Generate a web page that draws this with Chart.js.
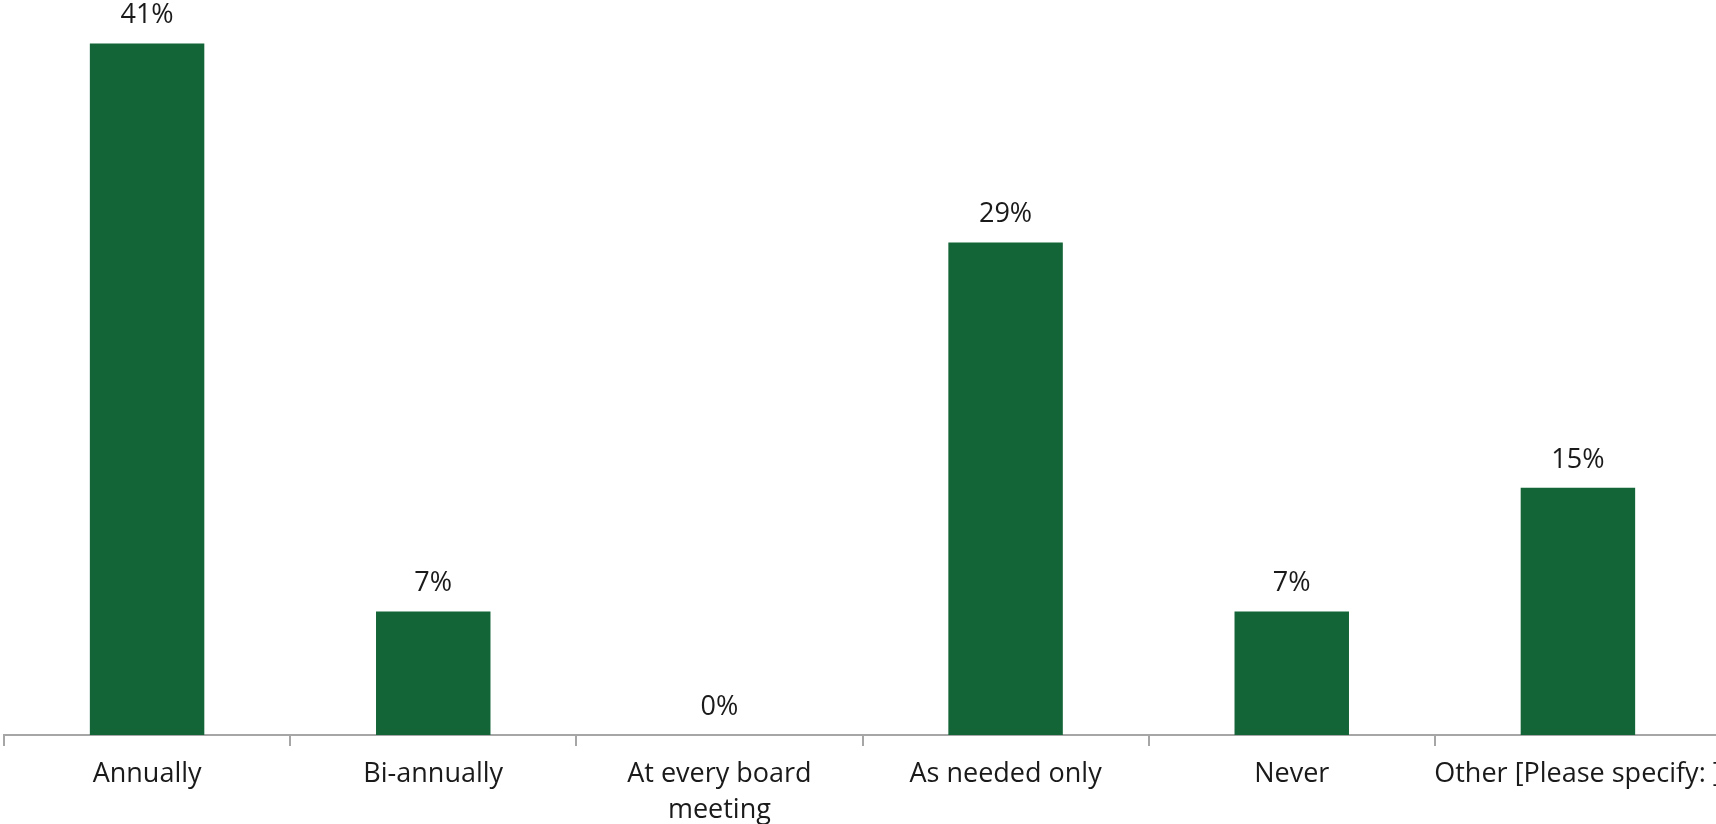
<!DOCTYPE html>
<html>
<head>
<meta charset="utf-8">
<script src="https://cdn.jsdelivr.net/npm/chart.js@4/dist/chart.umd.min.js"></script>
<style>
  html, body { margin: 0; padding: 0; background: #fff; overflow: hidden; }
  canvas { display: block; }
</style>
</head>
<body>
<canvas id="freq-chart" width="1721" height="824"></canvas>
<script>
const categories = ['Annually', 'Bi-annually', ['At every board', 'meeting'], 'As needed only', 'Never', 'Other [Please specify: ]']
const shares = [41.4, 7.4, 0, 29.49, 7.4, 14.8]

const green = '#136436'
const axisGrey = '#a6a6a6'
const textColor = '#1a1a1a'

// value labels above each bar
const barLabels = {
    id: 'barLabels',
    afterDatasetsDraw(chart) {
        const c = chart.ctx
        const meta = chart.getDatasetMeta(0)
        c.save()
        c.font = '27px "Open Sans"'
        c.fillStyle = textColor
        c.textAlign = 'center'
        c.textBaseline = 'alphabetic'
        meta.data.forEach((bar, i) => {
            c.fillText(Math.round(shares[i]) + '%', bar.x, bar.y - 20)
        })
        c.restore()
    }
}

const ctx = document.getElementById('freq-chart')
new Chart(ctx, {
    type: 'bar',
    data: {
        labels: categories,
        datasets: [{
            data: shares,
            backgroundColor: green,
            borderWidth: 0,
            categoryPercentage: 1,
            barPercentage: 0.4
        }]
    },
    options: {
        responsive: false,
        animation: false,
        layout: { padding: { left: 4, right: 0, top: 0, bottom: 0 } },
        plugins: {
            legend: { display: false },
            tooltip: { enabled: false }
        },
        scales: {
            x: {
                offset: true,
                grid: {
                    display: true,
                    offset: true,
                    drawOnChartArea: false,
                    drawTicks: true,
                    tickLength: 11,
                    color: axisGrey,
                    lineWidth: 2
                },
                border: { display: true, color: axisGrey, width: 2 },
                ticks: {
                    color: textColor,
                    padding: 10,
                    maxRotation: 0,
                    autoSkip: false,
                    font: { family: 'Open Sans', size: 27, lineHeight: 1.33 }
                },
                afterFit: s => {
                    s.height = 89
                    // let the last label run off the edge like the original
                    s.paddingLeft = 0
                    s.paddingRight = 0
                }
            },
            y: {
                display: false,
                min: 0,
                max: 44
            }
        }
    },
    plugins: [barLabels]
})
</script>
</body>
</html>
